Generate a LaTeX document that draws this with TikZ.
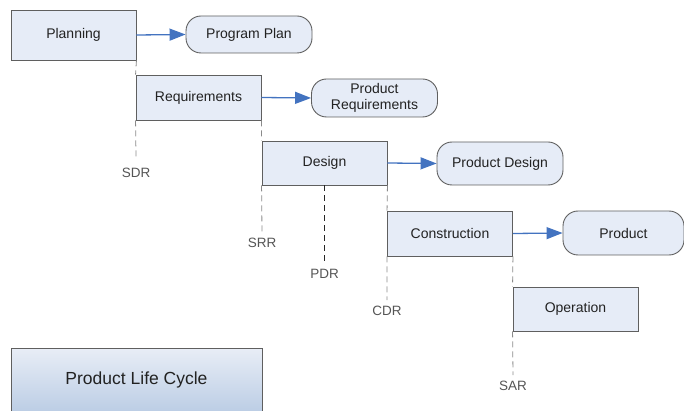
\documentclass[tikz,border=0pt]{standalone}
\usepackage{fontspec}
\setmainfont{Liberation Sans}
\usetikzlibrary{arrows.meta}
\definecolor{boxfill}{HTML}{E6ECF7}
\definecolor{boxline}{HTML}{5F5F5F}
\definecolor{flowblue}{HTML}{4373C0}
\definecolor{gateline}{HTML}{8A8A8A}
\definecolor{gatetext}{HTML}{555555}
\definecolor{txt}{HTML}{222222}
\definecolor{shadetop}{HTML}{E8EDF6}
\definecolor{shadebot}{HTML}{B7CAE3}
\tikzset{
  phase/.style={draw=boxline, line width=0.9pt, fill=boxfill, text=txt,
    minimum width=125pt, minimum height=45pt, inner sep=0pt,
    font=\fontsize{14}{16}\selectfont},
  result/.style={draw=boxline, line width=0.9pt, fill=boxfill, text=txt,
    rounded corners=15pt, minimum width=126pt, minimum height=38pt,
    inner sep=0pt, align=center, font=\fontsize{14}{16.5}\selectfont},
  flow/.style={draw=flowblue, line width=1.3pt,
    -{Triangle[length=16pt,width=12pt]}},
  gate/.style={draw=gateline, line width=0.8pt, dash pattern=on 6pt off 4pt},
  gatedark/.style={draw=black!85, line width=0.9pt, dash pattern=on 6pt off 4pt},
  review/.style={text=gatetext, inner sep=0pt,
    font=\fontsize{13.5}{15}\selectfont},
}
\begin{document}
\begin{tikzpicture}[x=1pt,y=-1pt]
\clip (0,0) rectangle (684,411);
\useasboundingbox (0,0) rectangle (684,411);

% life-cycle phases
\node[phase, minimum height=50pt] (plan) at (73.5,35) {Planning};
\node[phase] (req)    at (198.5,97.5)  {Requirements};
\node[phase, minimum height=44pt] (design) at (324.5,163) {Design};
\node[phase] (cons)   at (450,233.5)   {Construction};
\node[phase, minimum height=44pt] (oper) at (575.5,309) {Operation};

% phase outputs
\node[result, minimum height=37pt] (pplan) at (249,34.5) {Program Plan};
\node[result] (preq)   at (374.5,98)  {Product\\Requirements};
\node[result, minimum height=43pt] (pdes) at (500,163.5) {Product Design};
\node[result, minimum width=121pt, minimum height=44pt] (prod) at (623.5,233) {Product};

\draw[flow] (plan.east)   -- (pplan.west);
\draw[flow] (req.east)    -- (preq.west);
\draw[flow] (design.east) -- (pdes.west);
\draw[flow] (cons.east)   -- (prod.west);

% review milestones
\node[review] (sdr) at (136,173) {SDR};
\node[review] (srr) at (262,243) {SRR};
\node[review] (pdr) at (324.5,274) {PDR};
\node[review] (cdr) at (387,311) {CDR};
\node[review] (sar) at (513,386) {SAR};

\draw[gate] (plan.south east) -- (req.north west);
\draw[gate] (req.south west) -- ([yshift=10pt]sdr.north);
\draw[gate] (req.south east) -- (design.north west);
\draw[gate] (design.south west) -- ([yshift=5pt]srr.north);
\draw[gatedark] (design.south) -- ([yshift=5pt]pdr.north);
\draw[gate] (design.south east) -- (cons.north west);
\draw[gate] (cons.south west) -- ([yshift=6pt]cdr.north);
\draw[gate] (cons.south east) -- (oper.north west);
\draw[gate] (oper.south west) -- ([yshift=6pt]sar.north);

% title block
\node[draw=boxline, line width=0.9pt, top color=shadetop, bottom color=shadebot,
  minimum width=251pt, minimum height=70pt, anchor=north west, inner sep=0pt]
  (title) at (11,348) {};
\node[text=txt, font=\fontsize{17.5}{20}\selectfont] (titletext) at (136.5,380) {Product Life Cycle};
\end{tikzpicture}
\end{document}
